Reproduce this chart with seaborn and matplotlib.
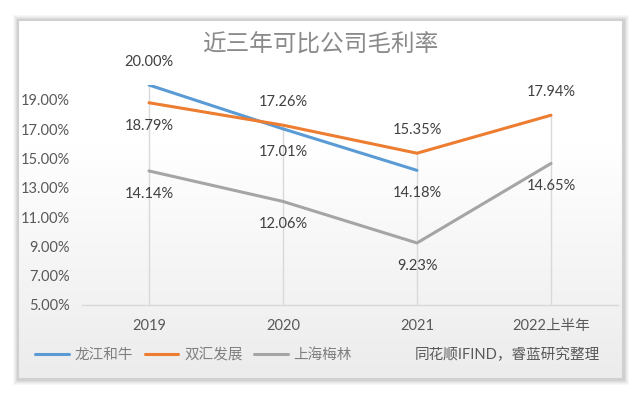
import numpy as np
import pandas as pd
import matplotlib
matplotlib.use('Agg')
import matplotlib.pyplot as plt
import matplotlib.patches as mpatches
import seaborn as sns

years = ['2019', '2020', '2021', '2022上半年']
longjiang = [20.00, 17.01, 14.18, np.nan]
shuanghui = [18.79, 17.26, 15.35, 17.94]
meilin = [14.14, 12.06, 9.23, 14.65]
names = ['龙江和牛', '双汇发展', '上海梅林']
colors = ['#5B9BD5', '#ED7D31', '#A5A5A5']
yticks = [5, 7, 9, 11, 13, 15, 17, 19]

sns.set_theme(style='white')
plt.rcParams['font.family'] = ['Lato', 'Noto Sans CJK SC', 'DejaVu Sans']

df = pd.DataFrame({'year': years * 3,
                   'pos': list(range(4)) * 3,
                   'value': longjiang + shuanghui + meilin,
                   'company': sum([[n] * 4 for n in names], [])})

fig = plt.figure(figsize=(6.4, 3.98), dpi=100)
W, H = 640, 398

# 外框和阴影
bg = fig.add_axes([0, 0, 1, 1])
bg.set_xlim(0, W)
bg.set_ylim(H, 0)
bg.axis('off')
for i, a in enumerate([0.05, 0.06, 0.08, 0.10, 0.12]):
    d = 6 - i
    bg.add_patch(mpatches.Rectangle((18 - d + 1, 20 - d + 1), 604 + 2 * d, 358 + 2 * d,
                                    facecolor='#7f7f7f', edgecolor='none', alpha=a))
grad = np.linspace(0, 1, 256).reshape(-1, 1)
grad = np.clip((grad - 0.35) / 0.65, 0, 1)
cmap = matplotlib.colors.LinearSegmentedColormap.from_list('g', ['#ffffff', '#ececec'])
bg.imshow(grad, extent=(18, 622, 378, 20), cmap=cmap, aspect='auto', zorder=2)
bg.add_patch(mpatches.Rectangle((18, 20), 604, 358, facecolor='none',
                                edgecolor='#d0d0d0', lw=0.8, zorder=3))

ax = fig.add_axes([82 / W, 1 - 305 / H, (618 - 82) / W, (305 - 85) / H])
ax.patch.set_alpha(0)

# 垂线
tops = np.nanmax(np.array([longjiang, shuanghui, meilin]), axis=0)
ax.vlines(range(4), 5, tops, color='#D9D9D9', lw=1, zorder=1)

sns.lineplot(data=df, x='pos', y='value', hue='company', palette=colors,
             hue_order=names, lw=2.2, ax=ax, legend=False, zorder=3)

off = 16.5
offsets = {
    '龙江和牛': [off, -off, -off, 0],
    '双汇发展': [-off, off, off, off],
    '上海梅林': [-off, -off, -off, -off],
}
for n, vals in zip(names, [longjiang, shuanghui, meilin]):
    for i, v in enumerate(vals):
        if np.isnan(v):
            continue
        ax.annotate(f'{v:.2f}%', (i, v), xytext=(0, offsets[n][i]),
                    textcoords='offset points', ha='center', va='center',
                    fontsize=10.5, color='#404040')

ax.set_xlim(-0.5, 3.5)
ax.set_ylim(5, 20)
ax.set_yticks(yticks)
ax.set_yticklabels([f'{t:.2f}%' for t in yticks], fontsize=10.5, color='#595959')
ax.set_xticks(range(4))
ax.set_xticklabels(years, fontsize=10.5, color='#595959')
ax.tick_params(axis='both', length=0, pad=10)
ax.tick_params(axis='y', pad=9)
ax.set_xlabel('')
ax.set_ylabel('')
for s in ['top', 'right', 'left']:
    ax.spines[s].set_visible(False)
ax.spines['bottom'].set_color('#D9D9D9')
ax.spines['bottom'].set_linewidth(1)

fig.text(320 / W, 1 - 45 / H, '近三年可比公司毛利率', ha='center', va='center',
         fontsize=17, color='#8a8a8a', fontweight='light')

handles = [plt.Line2D([], [], color=c, lw=2.2) for c in colors]
fig.legend(handles, names, loc='center left', bbox_to_anchor=(22 / W, 1 - 355 / H),
           ncol=3, frameon=False, fontsize=10.5, handlelength=2.3, columnspacing=0.8,
           handletextpad=0.4, labelcolor='#7f7f7f')
fig.text(600 / W, 1 - 355 / H, '同花顺IFIND，睿蓝研究整理', ha='right', va='center',
         fontsize=10.5, color='#595959')

fig.savefig('out.png', dpi=100)
